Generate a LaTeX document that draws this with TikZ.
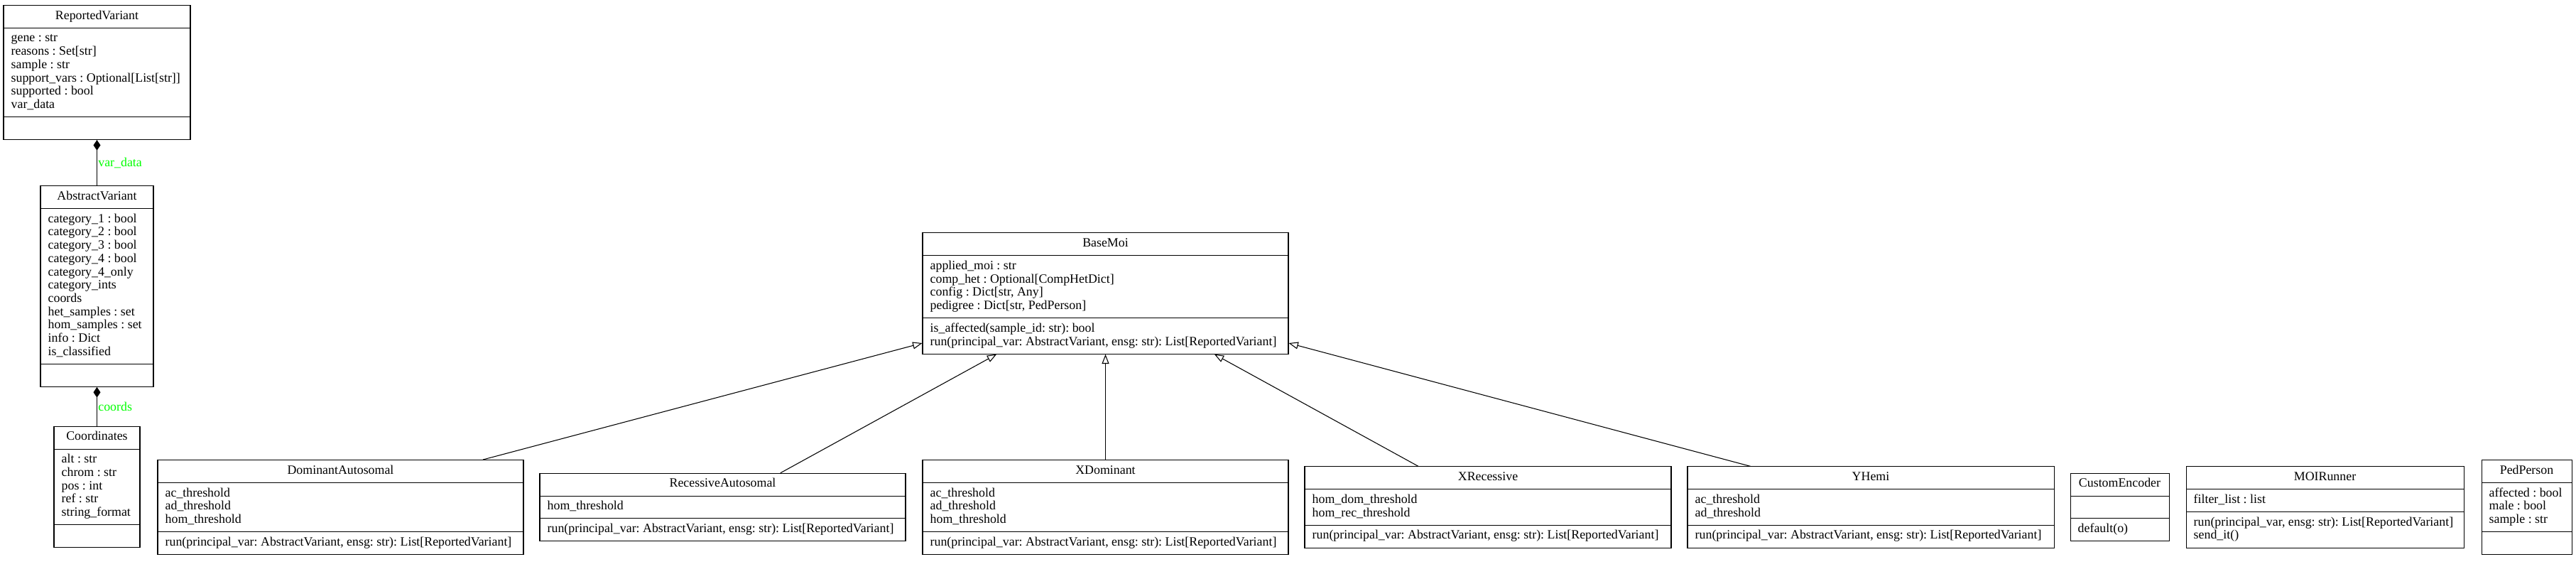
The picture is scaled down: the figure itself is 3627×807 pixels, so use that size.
\documentclass[tikz,border=0pt]{standalone}
\usepackage{fontspec}
\setmainfont{Liberation Serif}
\usepackage{tikz}
\usetikzlibrary{shapes.multipart}
\usetikzlibrary{arrows.meta}

\tikzset{
  umlclass/.style={draw, line width=0.8pt, rectangle split, rectangle split parts=3,
    rectangle split part align={center,left,left}, align=left,
    minimum width=#1, inner xsep=8pt, inner ysep=4.5pt,
    font=\fontsize{13.4}{14.05}\selectfont\frenchspacing},
  inherit/.style={-{Triangle[open, length=10pt, width=7.5pt]}, line width=0.8pt},
  compose/.style={-{Diamond[length=11pt, width=7.5pt]}, line width=0.8pt},
  rolelabel/.style={text=green, font=\fontsize{13.4}{14.05}\selectfont, inner sep=1pt}
}

\begin{document}
\begin{tikzpicture}[x=0.75pt, y=-0.75pt]
\useasboundingbox (0,0) rectangle (3627,807);

% left column
\node[umlclass=197.25pt] (repvar) at (136.5,102)
  {\strut ReportedVariant
   \nodepart{two}\strut gene : str\\ reasons : Set[str]\\ sample : str\\
   support\_vars : Optional[List[str]]\\ supported : bool\\ var\_data\strut
   \nodepart{three}\strut};
\node[umlclass=119.25pt] (absvar) at (136.5,403)
  {\strut AbstractVariant
   \nodepart{two}\strut category\_1 : bool\\ category\_2 : bool\\ category\_3 : bool\\
   category\_4 : bool\\ category\_4\_only\\ category\_ints\\ coords\\
   het\_samples : set\\ hom\_samples : set\\ info : Dict\\ is\_classified\strut
   \nodepart{three}\strut};
\node[umlclass=90.75pt] (coords) at (136.5,685.5)
  {\strut Coordinates
   \nodepart{two}\strut alt : str\\ chrom : str\\ pos : int\\ ref : str\\ string\_format\strut
   \nodepart{three}\strut};

\draw[compose] (absvar) -- (repvar) node[rolelabel, midway, right] {var\_data};
\draw[compose] (coords) -- (absvar) node[rolelabel, midway, right] {coords};

% base class
\node[umlclass=386.25pt] (basemoi) at (1556.5,413)
  {\strut BaseMoi
   \nodepart{two}\strut applied\_moi : str\\ comp\_het : Optional[CompHetDict]\\
   config : Dict[str, Any]\\ pedigree : Dict[str, PedPerson]\strut
   \nodepart{three}\strut is\_affected(sample\_id: str): bool\\
   run(principal\_var: AbstractVariant, ensg: str): List[ReportedVariant]\strut};

% subclasses
\node[umlclass=386.25pt] (domaut) at (479.5,714)
  {\strut DominantAutosomal
   \nodepart{two}\strut ac\_threshold\\ ad\_threshold\\ hom\_threshold\strut
   \nodepart{three}\strut run(principal\_var: AbstractVariant, ensg: str): List[ReportedVariant]\strut};
\node[umlclass=386.25pt] (recaut) at (1017.5,714)
  {\strut RecessiveAutosomal
   \nodepart{two}\strut hom\_threshold\strut
   \nodepart{three}\strut run(principal\_var: AbstractVariant, ensg: str): List[ReportedVariant]\strut};
\node[umlclass=386.25pt] (xdom) at (1556.5,714)
  {\strut XDominant
   \nodepart{two}\strut ac\_threshold\\ ad\_threshold\\ hom\_threshold\strut
   \nodepart{three}\strut run(principal\_var: AbstractVariant, ensg: str): List[ReportedVariant]\strut};
\node[umlclass=387pt] (xrec) at (2095,714)
  {\strut XRecessive
   \nodepart{two}\strut hom\_dom\_threshold\\ hom\_rec\_threshold\strut
   \nodepart{three}\strut run(principal\_var: AbstractVariant, ensg: str): List[ReportedVariant]\strut};
\node[umlclass=387pt] (yhemi) at (2634,714)
  {\strut YHemi
   \nodepart{two}\strut ac\_threshold\\ ad\_threshold\strut
   \nodepart{three}\strut run(principal\_var: AbstractVariant, ensg: str): List[ReportedVariant]\strut};

\draw[inherit] ([xshift=150.4pt]domaut.north) -- ([yshift=-52.5pt]basemoi.west);
\draw[inherit] ([xshift=61pt]recaut.north) -- ([xshift=-115pt]basemoi.south);
\draw[inherit] (xdom) -- (basemoi);
\draw[inherit] ([xshift=-73.5pt]xrec.north) -- ([xshift=115pt]basemoi.south);
\draw[inherit] ([xshift=-127pt]yhemi.north) -- ([yshift=-52.5pt]basemoi.east);

% standalone classes
\node[umlclass=104.25pt] (encoder) at (2984.5,714)
  {\strut CustomEncoder
   \nodepart{two}\strut
   \nodepart{three}\strut default(o)\strut};
\node[umlclass=293.25pt] (moirunner) at (3273.5,714)
  {\strut MOIRunner
   \nodepart{two}\strut filter\_list : list\strut
   \nodepart{three}\strut run(principal\_var, ensg: str): List[ReportedVariant]\\ send\_it()\strut};
\node[umlclass=95.25pt] (pedperson) at (3557.5,714)
  {\strut PedPerson
   \nodepart{two}\strut affected : bool\\ male : bool\\ sample : str\strut
   \nodepart{three}\strut};
\end{tikzpicture}
\end{document}
